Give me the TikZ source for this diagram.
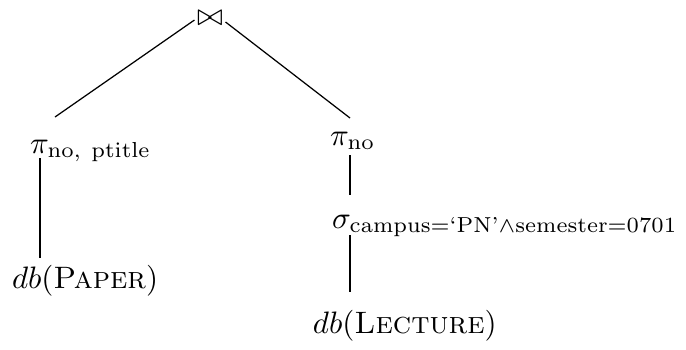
\documentclass[tikz,border=0pt]{standalone}
\usetikzlibrary{calc}
\begin{document}
\begin{tikzpicture}[x=0.3226pt,y=-0.3226pt,
  lbl/.style={inner sep=0pt,outer sep=0pt,anchor=base west},
  edge/.style={draw,line width=0.4pt}]
\useasboundingbox (0,0) rectangle (686,349);
\node[inner sep=0pt] (join) at (210,18) {$\bowtie$};
\node[lbl] (p1) at (30,153) {$\pi_{\mathrm{no,\ ptitle}}$};
\node[lbl] (p2) at (330,145) {$\pi_{\mathrm{no}}$};
\node[lbl] (s2) at (332,228) {$\sigma_{\mathrm{campus}=\mbox{\scriptsize`PN'}\wedge\mathrm{semester}=0701}$};
\node[lbl] (d1) at (12,288) {$db(\textsc{Paper})$};
\node[lbl] (d2) at (313,333) {$db(\textsc{Lecture})$};
\draw[edge] ($(join.west)+(-2,2)$) -- ($(p1.base west)+(25,-36)$);
\draw[edge] ($(join.east)+(2,4)$) -- ($(p2.base west)+(20,-27)$);
\draw[edge] ($(p1.base west)+(10,5)$) -- ($(d1.base west)+(28,-30)$);
\draw[edge] ($(p2.base west)+(20,10)$) -- ($(s2.base west)+(18,-33)$);
\draw[edge] ($(s2.base west)+(18,7)$) -- ($(d2.base west)+(37,-41)$);
\end{tikzpicture}
\end{document}
